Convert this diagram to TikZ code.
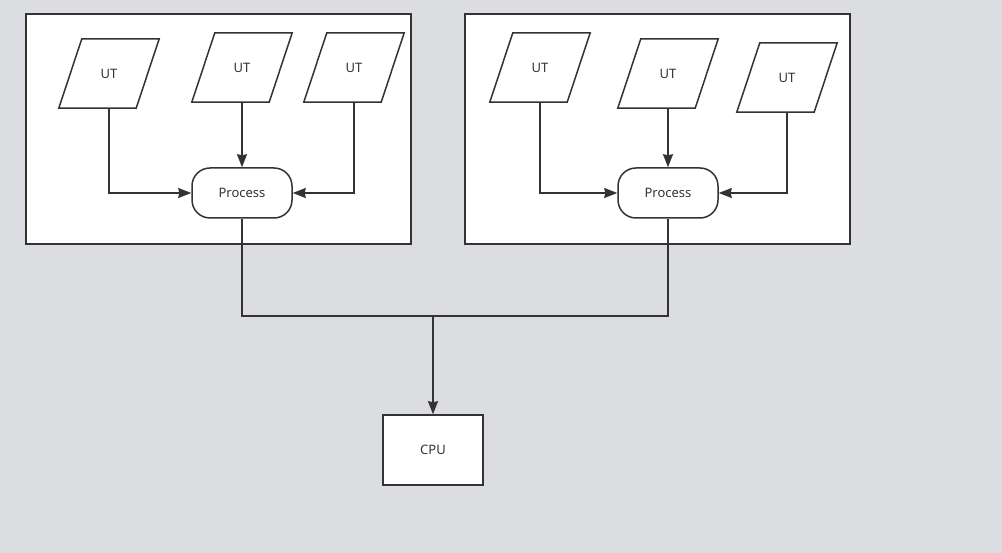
\documentclass[tikz,border=0pt]{standalone}
\usepackage{fontspec}
\setmainfont{Noto Sans}
\usetikzlibrary{arrows.meta,backgrounds}
\definecolor{bgc}{HTML}{DCDDE1}
\definecolor{ink}{HTML}{333333}
\tikzset{
  lbl/.style={font=\fontsize{13}{15}\selectfont, text=ink, inner sep=0pt},
  utbox/.style={lbl, minimum width=100pt, minimum height=69pt, shape=rectangle},
  para/.style={draw=ink, line width=1.5pt, fill=white, line join=miter},
  procbox/.style={lbl, draw=ink, line width=1.5pt, fill=white, minimum width=100pt, minimum height=50pt, rounded corners=18pt},
  cpubox/.style={lbl, draw=ink, line width=1.5pt, fill=white, minimum width=100pt, minimum height=70pt},
  container/.style={draw=ink, line width=1.5pt, fill=white},
  wire/.style={draw=ink, line width=1.5pt},
  conn/.style={wire, -{Stealth[length=13pt, width=10pt, inset=1pt]}}
}
\begin{document}
\begin{tikzpicture}[x=1pt,y=-1pt]
\begin{pgfonlayer}{background}
  \fill[bgc] (0,0) rectangle (1002,553);
  \node[container, minimum width=385pt, minimum height=230pt] (g1) at (218.5,129) {};
  \node[container, minimum width=385pt, minimum height=230pt] (g2) at (657.5,129) {};
\end{pgfonlayer}
\useasboundingbox (0,0) rectangle (1002,553);
% UT nodes
\node[utbox] (u1) at (109,73.5) {UT};
\node[utbox] (u2) at (242,67.5) {UT};
\node[utbox] (u3) at (354,67.5) {UT};
\node[utbox] (u4) at (540,67.5) {UT};
\node[utbox] (u5) at (668,73.5) {UT};
\node[utbox] (u6) at (787,77.5) {UT};
\begin{pgfonlayer}{background}
  \foreach \n in {u1,u2,u3,u4,u5,u6}{
    \draw[para] (\n.south west) -- ([xshift=-23pt]\n.south east) -- (\n.north east) -- ([xshift=23pt]\n.north west) -- cycle;
  }
\end{pgfonlayer}
% Process nodes
\node[procbox] (p1) at (242,193) {Process};
\node[procbox] (p2) at (668,193) {Process};
% CPU
\node[cpubox] (cpu) at (433,450) {CPU};
\coordinate (j) at (433,316);
% connectors
\draw[conn] (u1.south) |- (p1.west);
\draw[conn] (u2.south) -- (p1.north);
\draw[conn] (u3.south) |- (p1.east);
\draw[conn] (u4.south) |- (p2.west);
\draw[conn] (u5.south) -- (p2.north);
\draw[conn] (u6.south) |- (p2.east);
\draw[wire] (p1.south) |- (j);
\draw[wire] (p2.south) |- (j);
\draw[conn] (j) -- (cpu.north);
\end{tikzpicture}
\end{document}
